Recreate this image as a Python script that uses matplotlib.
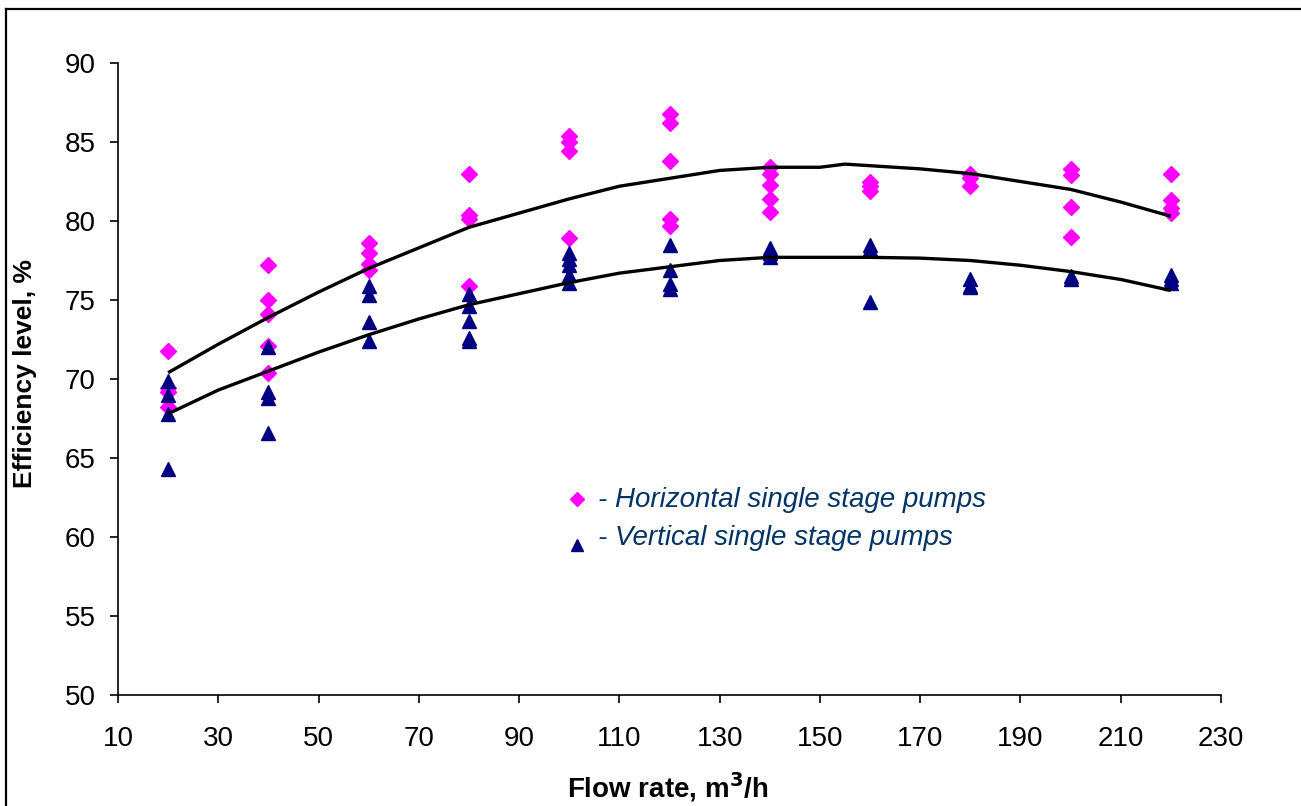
import matplotlib
matplotlib.use("Agg")
import matplotlib.pyplot as plt
from matplotlib.lines import Line2D

plt.rcParams['font.family'] = ['Liberation Sans', 'DejaVu Sans']

# Horizontal single stage pumps (flow, efficiency)
horiz_x = [20, 20, 20, 20,
           40, 40, 40, 40, 40,
           60, 60, 60, 60,
           80, 80, 80, 80,
           100, 100, 100, 100,
           120, 120, 120, 120, 120,
           140, 140, 140, 140, 140,
           160, 160, 160,
           180, 180, 180,
           200, 200, 200, 200,
           220, 220, 220, 220]
horiz_y = [71.8, 69.4, 69.2, 68.2,
           77.2, 75.0, 74.1, 72.1, 70.4,
           78.6, 78.0, 77.3, 76.9,
           83.0, 80.4, 80.1, 75.9,
           85.4, 85.0, 84.4, 78.9,
           86.8, 86.2, 83.8, 80.1, 79.7,
           83.4, 83.0, 82.3, 81.4, 80.6,
           82.5, 82.2, 81.9,
           83.0, 82.7, 82.2,
           83.3, 82.9, 80.9, 79.0,
           83.0, 81.3, 80.8, 80.5]

# Vertical single stage pumps (flow, efficiency)
vert_x = [20, 20, 20, 20,
          40, 40, 40, 40,
          60, 60, 60, 60,
          80, 80, 80, 80, 80,
          100, 100, 100, 100, 100,
          120, 120, 120, 120,
          140, 140, 140,
          160, 160, 160,
          180, 180, 180,
          200, 200,
          220, 220, 220]
vert_y = [69.9, 69.0, 67.8, 64.3,
          72.0, 69.2, 68.8, 66.6,
          75.9, 75.3, 73.6, 72.4,
          75.4, 74.6, 73.7, 72.6, 72.4,
          78.0, 77.6, 77.2, 76.6, 76.1,
          78.5, 76.9, 76.0, 75.7,
          78.3, 78.0, 77.7,
          78.5, 78.2, 74.9,
          76.3, 75.9, 75.8,
          76.5, 76.3,
          76.6, 76.3, 76.1]

# Trend lines
trend_x = [20, 30, 40, 50, 60, 70, 80, 90, 100, 110, 120, 130, 140, 150, 155, 160, 170, 180, 190, 200, 210, 220]
trend_upper = [70.4, 72.2, 73.9, 75.5, 77.0, 78.3, 79.6, 80.5, 81.4, 82.2, 82.7, 83.2, 83.4, 83.4, 83.6, 83.5, 83.3, 83.0, 82.5, 82.0, 81.2, 80.3]
trend_lower = [67.8, 69.3, 70.5, 71.7, 72.8, 73.8, 74.7, 75.4, 76.1, 76.7, 77.1, 77.5, 77.7, 77.7, 77.7, 77.7, 77.65, 77.5, 77.2, 76.8, 76.3, 75.6]

x_ticks = list(range(10, 231, 20))
y_ticks = list(range(50, 91, 5))

W, H = 1301, 806
fig = plt.figure(figsize=(W / 100, H / 100), dpi=100)
ax = fig.add_axes([118 / W, (H - 695) / H, 1103 / W, 632 / H])

ax.plot(trend_x, trend_upper, color='black', lw=2.4, zorder=3, solid_capstyle='butt')
ax.plot(trend_x, trend_lower, color='black', lw=2.4, zorder=3, solid_capstyle='butt')
ax.plot(horiz_x, horiz_y, linestyle='none', marker='D', ms=8.5, color='#FF00FF', mec='#FF00FF', zorder=2)
ax.plot(vert_x, vert_y, linestyle='none', marker='^', ms=10, color='#000080', mec='#000080', zorder=2)

ax.set_xlim(10, 230)
ax.set_ylim(50, 90)
ax.set_xticks(x_ticks)
ax.set_yticks(y_ticks)
for s in ['top', 'right']:
    ax.spines[s].set_visible(False)
for s in ['left', 'bottom']:
    ax.spines[s].set_linewidth(1.2)
ax.tick_params(direction='out', length=6, width=1.2, labelsize=20)
ax.tick_params(axis='y', pad=10)
ax.tick_params(axis='x', pad=16)

fig.text(25 / W, 1 - 373 / H, 'Efficiency level, %', rotation=90, ha='center', va='center',
         fontsize=19, fontweight='bold')
fig.text(668 / W, 1 - 787 / H, 'Flow rate, m$^{\\mathbf{3}}$/h', ha='center', va='center',
         fontsize=20, fontweight='bold')

# legend
ax.plot([20 + (577 - 168) / 5.0136], [90 - (499 - 63) / 15.8], marker='D', ms=7, color='#FF00FF',
        linestyle='none', clip_on=False)
ax.plot([20 + (577 - 168) / 5.0136], [90 - (545 - 63) / 15.8], marker='^', ms=8, color='#000080',
        linestyle='none', clip_on=False)
fig.text(598 / W, 1 - 500 / H, '- Horizontal single stage pumps', ha='left', va='center',
         fontsize=20, style='italic', color='#003366')
fig.text(598 / W, 1 - 538 / H, '- Vertical single stage pumps', ha='left', va='center',
         fontsize=20, style='italic', color='#003366')

# figure border (left and top visible)
fig.add_artist(Line2D([5.5 / W, 5.5 / W], [0, 1 - 9 / H], color='black', lw=1.6, transform=fig.transFigure))
fig.add_artist(Line2D([5.5 / W, 1], [1 - 9 / H, 1 - 9 / H], color='black', lw=1.6, transform=fig.transFigure))

fig.savefig('out.png', dpi=100)
